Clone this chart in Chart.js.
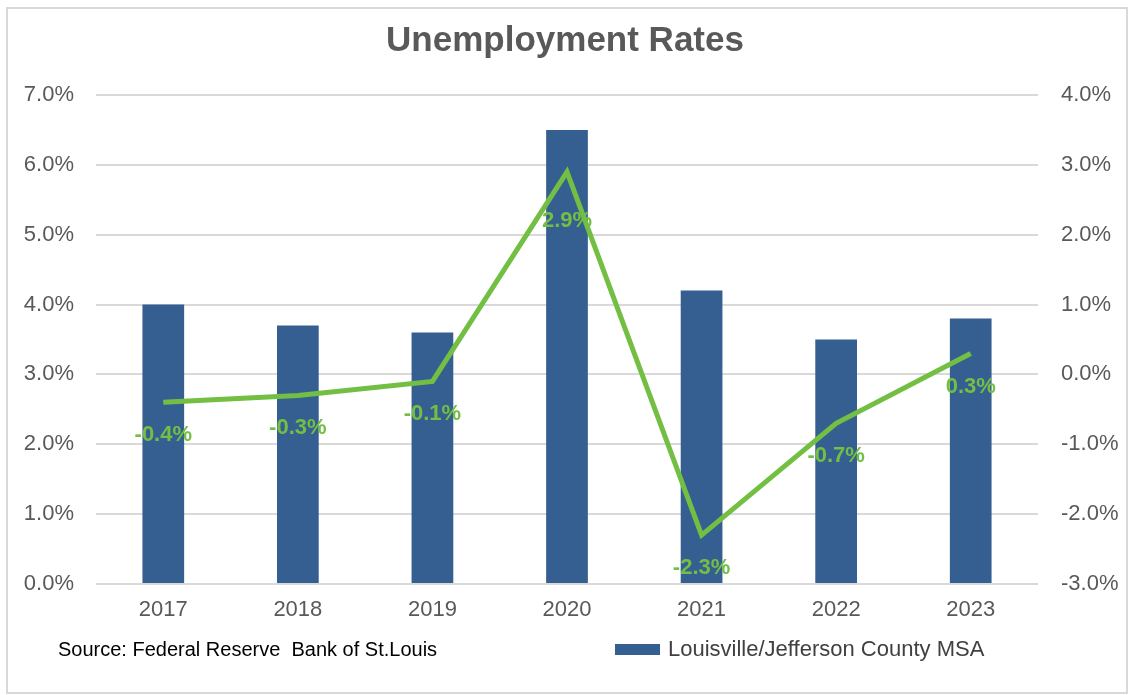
<!DOCTYPE html>
<html lang="en">
<head>
  <title>Unemployment Rates</title>
  <meta charset="UTF-8">
  <script src="https://cdn.jsdelivr.net/npm/chart.js"></script>
  <style>
    * {
      margin: 0;
      padding: 0;
      box-sizing: border-box;
    }

    html, body {
      width: 1130px;
      height: 695px;
      background-color: white;
      overflow: hidden;
      font-family: 'Liberation Sans', Arial, sans-serif;
    }

    .chartBox {
      position: absolute;
      left: 0;
      top: 0;
      width: 1130px;
      height: 695px;
    }

    .frame {
      position: absolute;
      left: 6px;
      top: 7px;
      width: 1122px;
      height: 687px;
      border: 2px solid #d9d9d9;
      pointer-events: none;
    }
  </style>
</head>
<body>

  <div class="chartBox">
    <canvas id="unemploymentChart" width="1130" height="695"></canvas>
  </div>
  <div class="frame"></div>

  <script>

    const years = ['2017', '2018', '2019', '2020', '2021', '2022', '2023'];
    const rateValues = [4.0, 3.7, 3.6, 6.5, 4.2, 3.5, 3.8];        // unemployment rate, left axis
    const changeValues = [-0.4, -0.3, -0.1, 2.9, -2.3, -0.7, 0.3];  // year over year change, right axis
    const rateTicks = [0, 7];      // left axis range
    const changeTicks = [-3, 4];   // right axis range
    const sourceNote = 'Source: Federal Reserve  Bank of St.Louis';

    const fontFace = "'Liberation Sans', Arial, sans-serif";

    function pct(v) {
      return Number(v).toFixed(1) + '%';
    }

    // green value labels under each point of the line
    const pointLabels = {
      id: 'pointLabels',
      afterDatasetsDraw(chart, args, opts) {
        const ctx = chart.ctx;
        const meta = chart.getDatasetMeta(opts.datasetIndex);
        const values = chart.data.datasets[opts.datasetIndex].data;
        ctx.save();
        ctx.font = opts.font;
        ctx.fillStyle = opts.color;
        ctx.textAlign = 'center';
        ctx.textBaseline = 'middle';
        meta.data.forEach(function (pt, i) {
          const dy = opts.offsets[i] !== undefined ? opts.offsets[i] : opts.offset;
          ctx.fillText(pct(values[i]), pt.x, pt.y + dy);
        });
        ctx.restore();
      }
    };

    // source note and single legend entry along the bottom
    const footer = {
      id: 'footer',
      afterDraw(chart, args, opts) {
        const ctx = chart.ctx;
        const ds = chart.data.datasets[0];
        ctx.save();
        ctx.textBaseline = 'middle';
        ctx.textAlign = 'left';

        ctx.font = opts.sourceFont;
        ctx.fillStyle = '#000000';
        ctx.fillText(sourceNote, opts.sourceX, opts.y);

        ctx.fillStyle = ds.backgroundColor;
        ctx.fillRect(opts.legendX, opts.y - 6, 45, 11);
        ctx.font = opts.legendFont;
        ctx.fillStyle = '#404040';
        ctx.fillText(ds.label, opts.legendX + 53, opts.y);
        ctx.restore();
      }
    };

    const chartLocation = document.getElementById('unemploymentChart').getContext('2d');
    var UnemploymentChart = new Chart(chartLocation, {
      data: {
        labels: years,
        datasets: [
          {
            type: 'bar',
            label: 'Louisville/Jefferson County MSA',
            data: rateValues,
            backgroundColor: '#355f91',
            barPercentage: 0.31,
            categoryPercentage: 1.0,
            yAxisID: 'y',
            order: 2
          },
          {
            type: 'line',
            label: 'Change',
            data: changeValues,
            borderColor: '#72bf44',
            borderWidth: 5,
            pointRadius: 0,
            tension: 0,
            yAxisID: 'y1',
            order: 1
          }
        ]
      },
      options: {
        responsive: false,
        animation: false,
        layout: {
          padding: { top: 20, left: 0, right: 0, bottom: 0 }
        },
        plugins: {
          legend: { display: false },
          tooltip: { enabled: false },
          title: {
            display: true,
            text: 'Unemployment Rates',
            color: '#595959',
            font: { family: fontFace, size: 35, weight: 'bold', lineHeight: 1.2 },
            padding: { top: 0, bottom: 33 }
          },
          pointLabels: {
            datasetIndex: 1,
            font: 'bold 22px ' + fontFace,
            color: '#72bf44',
            offset: 33,
            offsets: { 3: 49 }
          },
          footer: {
            y: 650,
            sourceX: 58,
            legendX: 615,
            sourceFont: '20px ' + fontFace,
            legendFont: '22px ' + fontFace
          }
        },
        scales: {
          x: {
            grid: { display: false, drawTicks: false },
            border: { display: false },
            ticks: {
              color: '#595959',
              font: { family: fontFace, size: 22 },
              padding: 13
            },
            afterFit(scale) { scale.height = 111; }
          },
          y: {
            position: 'left',
            min: rateTicks[0],
            max: rateTicks[1],
            grid: { color: '#d9d9d9', lineWidth: 2, drawTicks: false },
            border: { display: false },
            ticks: {
              stepSize: 1,
              color: '#595959',
              font: { family: fontFace, size: 22 },
              padding: 22,
              callback: pct
            },
            afterFit(scale) { scale.width = 96; }
          },
          y1: {
            position: 'right',
            min: changeTicks[0],
            max: changeTicks[1],
            grid: { display: false, drawTicks: false },
            border: { display: false },
            ticks: {
              stepSize: 1,
              color: '#595959',
              font: { family: fontFace, size: 22 },
              padding: 23,
              callback: pct
            },
            afterFit(scale) { scale.width = 92; }
          }
        }
      },
      plugins: [pointLabels, footer]
    });

  </script>
</body>
</html>
